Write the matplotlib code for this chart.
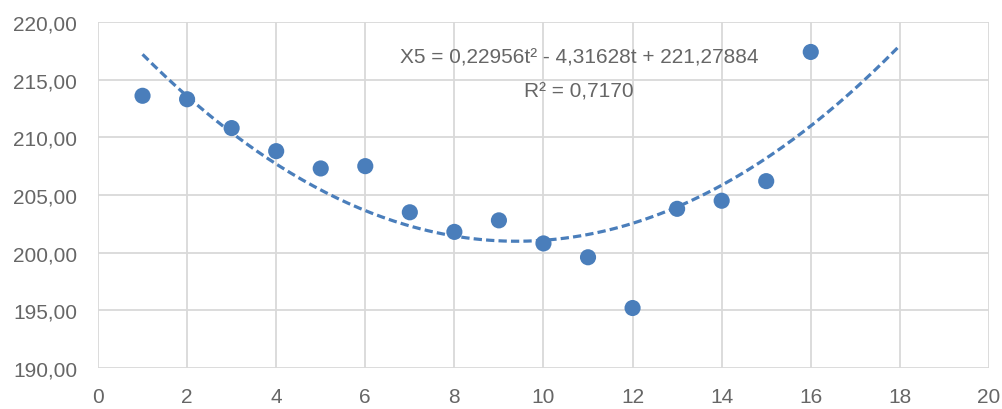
import matplotlib.pyplot as plt
import numpy as np

# Data
t = [1, 2, 3, 4, 5, 6, 7, 8, 9, 10, 11, 12, 13, 14, 15, 16]
x5 = [213.6, 213.3, 210.8, 208.8, 207.3, 207.5, 203.5, 201.8, 202.8,
      200.8, 199.6, 195.2, 203.8, 204.5, 206.2, 217.4]

# Polynomial trendline coefficients (from the label)
coef = [0.22956, -4.31628, 221.27884]
trend_range = (1, 18)

x_ticks = list(range(0, 21, 2))
y_ticks = [190, 195, 200, 205, 210, 215, 220]

blue = '#4a7ebb'
grey_text = '#666666'
grid_col = '#d9d9d9'

plt.rcParams['font.family'] = ['Liberation Sans', 'DejaVu Sans']

fig = plt.figure(figsize=(10.03, 4.10), dpi=100)
ax = fig.add_axes([0.0977, 0.1, 0.8883, 0.844])

# Trendline
tt = np.linspace(trend_range[0], trend_range[1], 200)
ax.plot(tt, np.polyval(coef, tt), color=blue, linewidth=2.3,
        linestyle=(0, (2.6, 1.3)), zorder=3)

# Points
ax.scatter(t, x5, s=135, color=blue, edgecolors='none', zorder=4)

ax.set_xlim(0, 20)
ax.set_ylim(190, 220)
ax.set_xticks(x_ticks)
ax.set_yticks(y_ticks)
ax.set_yticklabels([f'{v:.2f}'.replace('.', ',') for v in y_ticks])

ax.grid(True, color=grid_col, linewidth=1.3)
ax.set_axisbelow(True)
for s in ax.spines.values():
    s.set_visible(False)
ax.tick_params(axis='both', length=0, labelsize=15, colors=grey_text)
ax.tick_params(axis='y', pad=15)
ax.tick_params(axis='x', pad=14)

ax.text(0.54, 0.899, 'X5 = 0,22956t² - 4,31628t + 221,27884',
        transform=ax.transAxes, ha='center', va='center', fontsize=15,
        color=grey_text)
ax.text(0.54, 0.80, 'R² = 0,7170',
        transform=ax.transAxes, ha='center', va='center', fontsize=15,
        color=grey_text)

fig.savefig('out.png', dpi=100)
